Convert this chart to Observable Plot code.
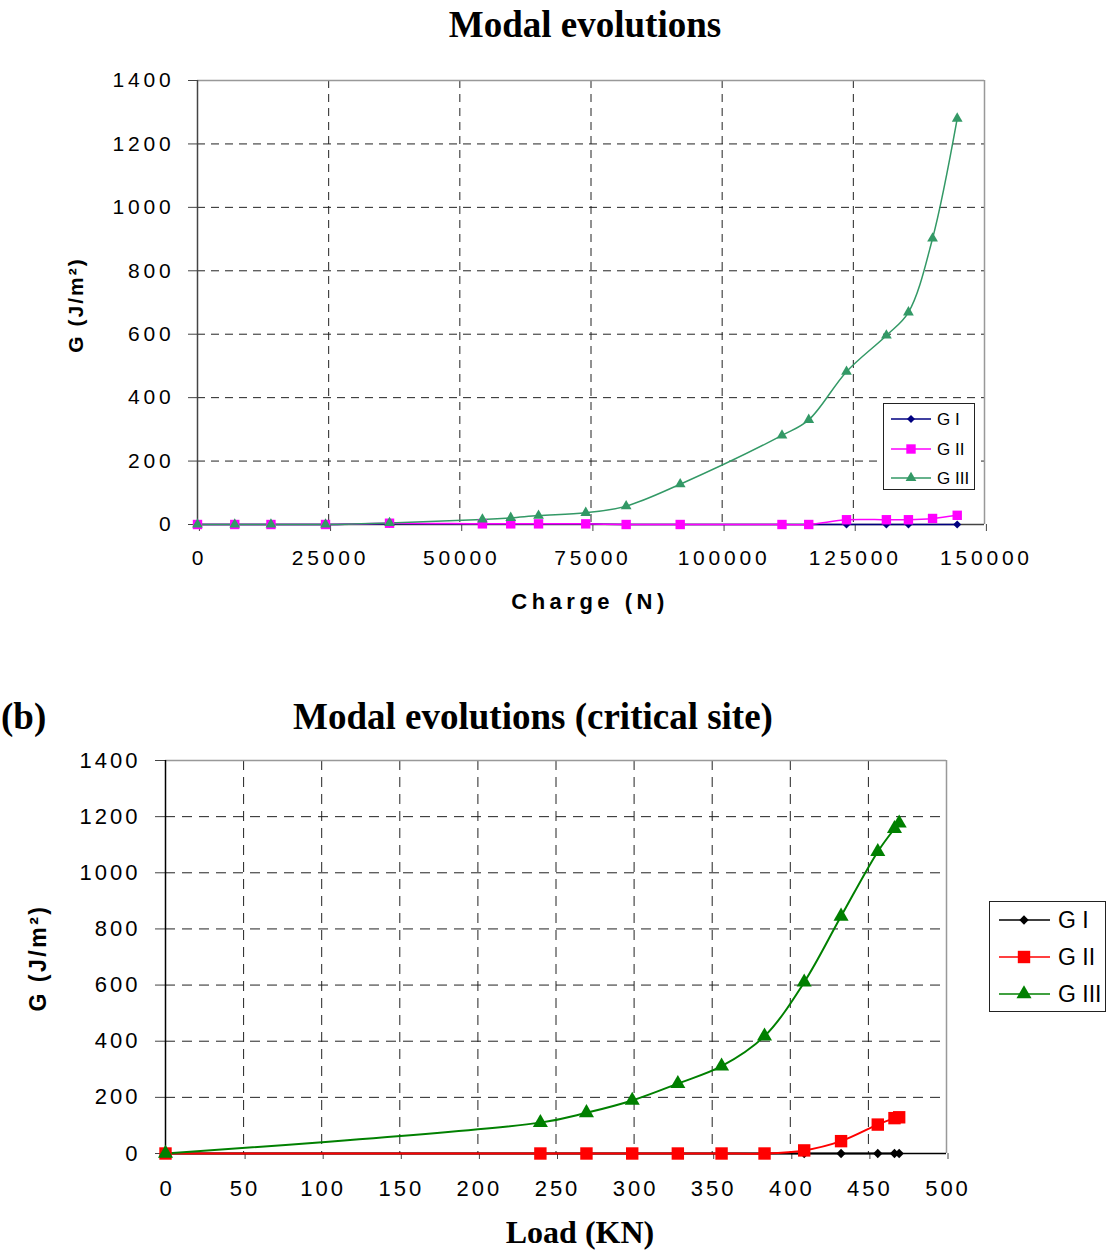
<!DOCTYPE html>
<html>
<head>
<meta charset="utf-8">
<script src="https://cdn.jsdelivr.net/npm/d3@7"></script>
<script src="https://cdn.jsdelivr.net/npm/@observablehq/plot@0.6"></script>
<style>
  html, body { margin: 0; padding: 0; background: #fff; }
  #wrap { position: relative; width: 1112px; height: 1252px; background: #fff; overflow: hidden; }
  .txt { position: absolute; white-space: nowrap; line-height: 1; color: #000; }
  .abs { position: absolute; }
</style>
</head>
<body>
<div id="wrap"></div>
<script>
// ---------------- DATA ----------------
// Chart (a): Modal evolutions — x = Charge (N)
const aSeriesNames = ["G I", "G II", "G III"];
const aX    = [0, 7100, 14000, 24400, 36600, 54300, 59700, 65000, 74000, 81700, 92000, 111400, 116500, 123700, 131300, 135500, 140100, 144800];
const aGI   = [0, 0, 0, 0, 2, 2, 2, 2, 2, 0, 0, 0, 0, 0, 0, 0, null, 0];
const aGII  = [0, 0, 0, 0, 4, 2, 2, 2, 2, 0, 0, 0, 0, 15, 15, 15, 19, 29];
const aGIII = [0, 0, 0, 0, 5, 16, 21, 28, 37, 58, 127, 281, 330, 482, 596, 669, 902, 1280];
const aXTicks = [0, 25000, 50000, 75000, 100000, 125000, 150000];
const aYTicks = [0, 200, 400, 600, 800, 1000, 1200, 1400];

// Chart (b): Modal evolutions (critical site) — x = Load (KN)
const bSeriesNames = ["G I", "G II", "G III"];
const bX    = [0, 240, 269.5, 298.8, 328, 356, 383.5, 408.9, 432.5, 456, 466.7, 469.7];
const bGI   = [0, 0, 0, 0, 0, 0, 0, 0, 0, 0, 0, 0];
const bGII  = [0, 0, 0, 0, 0, 0, 0, 11, 44, 103, 126, 129];
const bGIII = [0, 110, 145, 189, 249, 311, 418, 610, 845, 1075, 1157, 1177];
const bXTicks = [0, 50, 100, 150, 200, 250, 300, 350, 400, 450, 500];
const bYTicks = [0, 200, 400, 600, 800, 1000, 1200, 1400];

// ---------------- helpers ----------------
const wrap = document.getElementById("wrap");
const SERIF = "'Liberation Serif', 'Times New Roman', serif";
const SANS = "'Liberation Sans', Arial, sans-serif";

function addText(txt, x, baseline, o = {}) {
  const fs = o.fs || 20;
  const serif = o.font === "serif";
  const k = serif ? 0.8375 : 0.8465;
  const el = document.createElement("div");
  el.className = "txt";
  el.textContent = txt;
  el.style.fontFamily = serif ? SERIF : SANS;
  el.style.fontSize = fs + "px";
  el.style.fontWeight = o.weight || "normal";
  if (o.ls) el.style.letterSpacing = o.ls + "px";
  el.style.top = (baseline - k * fs) + "px";
  el.style.left = x + "px";
  if (o.anchor === "middle") el.style.transform = "translateX(-50%)";
  wrap.appendChild(el);
  return el;
}
function addRotated(txt, cx, cy, o = {}) {
  const el = document.createElement("div");
  el.className = "txt";
  el.textContent = txt;
  el.style.fontFamily = SANS;
  el.style.fontSize = (o.fs || 20) + "px";
  el.style.fontWeight = o.weight || "bold";
  if (o.ls) el.style.letterSpacing = o.ls + "px";
  el.style.left = cx + "px";
  el.style.top = cy + "px";
  el.style.transform = "translate(-50%,-50%) rotate(-90deg)";
  wrap.appendChild(el);
}

function rows(xs, ys, name) {
  return xs.map((x, i) => ({x, y: ys[i], s: name})).filter(d => d.y != null);
}

const symbolMap = {diamond2: d3.symbolDiamond2, square: d3.symbolSquare, triangle: d3.symbolTriangle};

function makeChart(cfg) {
  const marks = [];
  const gx = cfg.xTicks.slice(1, -1), gy = cfg.yTicks.slice(1, -1);
  marks.push(Plot.gridX(gx, {stroke: "#222", strokeOpacity: 1, strokeDasharray: cfg.dash}));
  marks.push(Plot.gridY(gy, {stroke: "#222", strokeOpacity: 1, strokeDasharray: cfg.dash}));
  marks.push(Plot.ruleX([cfg.xTicks[cfg.xTicks.length - 1]], {stroke: "#999", strokeWidth: 1.5}));
  marks.push(Plot.ruleY([cfg.yTicks[cfg.yTicks.length - 1]], {stroke: "#999", strokeWidth: 1.5}));
  marks.push(Plot.axisX(cfg.xTicks, {tickSize: cfg.xTickSize, tickPadding: cfg.xPad, tickFormat: d => String(d), label: null, stroke: "#444", dx: cfg.ls / 2}));
  marks.push(Plot.axisY(cfg.yTicks, {tickSize: cfg.yTickSize, tickPadding: cfg.yPad, tickFormat: d => String(d), label: null, stroke: "#444"}));
  marks.push(Plot.ruleY([0], {stroke: cfg.axisColor, strokeWidth: 1.5}));
  marks.push(Plot.ruleX([0], {stroke: cfg.axisColor, strokeWidth: 1.5}));
  cfg.series.forEach(s => {
    const data = rows(cfg.x, s.y, s.name);
    marks.push(Plot.line(data, {x: "x", y: "y", stroke: s.color, strokeWidth: cfg.lineWidth, curve: "catmull-rom"}));
  });
  cfg.series.forEach(s => {
    const data = rows(cfg.x, s.y, s.name);
    marks.push(Plot.dot(data, {x: "x", y: "y", symbol: s.symbol, fill: s.color, stroke: "none", r: s.r}));
  });
  const svg = Plot.plot({
    width: 1112, height: cfg.height,
    marginTop: cfg.mt, marginBottom: cfg.mb, marginLeft: cfg.ml, marginRight: cfg.mr,
    x: {type: "linear", domain: [cfg.xTicks[0], cfg.xTicks[cfg.xTicks.length - 1]]},
    y: {type: "linear", domain: [cfg.yTicks[0], cfg.yTicks[cfg.yTicks.length - 1]]},
    style: {fontFamily: SANS, fontSize: cfg.fs + "px", letterSpacing: cfg.ls + "px", background: "#fff", color: "#000", overflow: "visible"},
    marks
  });
  svg.style.position = "absolute";
  svg.style.left = "0px";
  svg.style.top = cfg.top + "px";
  wrap.appendChild(svg);
}

function makeLegend(cfg) {
  const box = document.createElement("div");
  box.className = "abs";
  box.style.left = cfg.left + "px";
  box.style.top = cfg.top + "px";
  box.style.width = cfg.w + "px";
  box.style.height = cfg.h + "px";
  box.style.border = "1.5px solid " + cfg.border;
  box.style.boxSizing = "border-box";
  box.style.background = "#fff";
  wrap.appendChild(box);
  const svg = d3.select(box).append("svg").attr("width", cfg.w).attr("height", cfg.h)
    .style("position", "absolute").style("left", "-1.5px").style("top", "-1.5px").style("overflow", "visible");
  cfg.series.forEach((s, i) => {
    const cy = cfg.rowY[i];
    svg.append("line").attr("x1", cfg.lx1).attr("x2", cfg.lx2).attr("y1", cy).attr("y2", cy)
      .attr("stroke", s.color).attr("stroke-width", cfg.lineWidth);
    svg.append("path").attr("transform", `translate(${cfg.mx},${cy})`)
      .attr("d", d3.symbol(symbolMap[s.symbol], Math.PI * s.r * s.r)()).attr("fill", s.color);
    svg.append("text").attr("x", cfg.tx).attr("y", cy).attr("dy", "0.36em")
      .attr("font-family", SANS).attr("font-size", cfg.fs).text(s.name);
  });
}

// ---------------- Chart (a) ----------------
const aSeries = [
  {name: aSeriesNames[0], y: aGI,   color: "#000080", symbol: "diamond2", r: 3.6},
  {name: aSeriesNames[1], y: aGII,  color: "#FF00FF", symbol: "square",   r: 5.3},
  {name: aSeriesNames[2], y: aGIII, color: "#339966", symbol: "triangle", r: 4.0}
];
addText("Modal evolutions", 585, 37, {font: "serif", fs: 37, weight: "bold", anchor: "middle"});
addText("(a)", 12, 140, {font: "serif", fs: 35, weight: "bold"});
makeChart({
  top: 60, height: 580, mt: 20, mb: 116, ml: 197, mr: 128,
  x: aX, series: aSeries, xTicks: aXTicks, yTicks: aYTicks,
  fs: 21, ls: 3.8, xTickSize: 7, xPad: 19, yTickSize: 9, yPad: 14,
  dash: "8,6", axisColor: "#444", lineWidth: 1.5
});
addRotated("G (J/m²)", 75, 305, {fs: 21, ls: 2});
addText("Charge (N)", 590, 610, {fs: 22, weight: "bold", ls: 4.5, anchor: "middle"});
makeLegend({
  left: 883, top: 403, w: 92, h: 87, border: "#222",
  series: aSeries, rowY: [16, 46, 75], lx1: 8, lx2: 48, mx: 28, tx: 54, fs: 17, lineWidth: 1.5
});

// ---------------- Chart (b) ----------------
const bSeries = [
  {name: bSeriesNames[0], y: bGI,   color: "#000000", symbol: "diamond2", r: 4.2},
  {name: bSeriesNames[1], y: bGII,  color: "#FF0000", symbol: "square",   r: 7.0},
  {name: bSeriesNames[2], y: bGIII, color: "#008000", symbol: "triangle", r: 5.6}
];
addText("(b)", 1, 729, {font: "serif", fs: 37, weight: "bold"});
addText("Modal evolutions (critical site)", 533, 729, {font: "serif", fs: 37, weight: "bold", anchor: "middle"});
makeChart({
  top: 740, height: 512, mt: 20, mb: 99, ml: 165, mr: 166,
  x: bX, series: bSeries, xTicks: bXTicks, yTicks: bYTicks,
  fs: 22, ls: 3, xTickSize: 6, xPad: 21, yTickSize: 10, yPad: 15,
  dash: "10,7", axisColor: "#000", lineWidth: 2
});
addRotated("G (J/m²)", 38, 958, {fs: 23, ls: 2.5});
addText("Load (KN)", 580, 1243, {font: "serif", fs: 32, weight: "bold", anchor: "middle"});
makeLegend({
  left: 989, top: 901, w: 117, h: 111, border: "#222",
  series: bSeries, rowY: [19, 56, 93], lx1: 10, lx2: 61, mx: 35, tx: 69, fs: 23, lineWidth: 1.5
});
</script>
</body>
</html>
